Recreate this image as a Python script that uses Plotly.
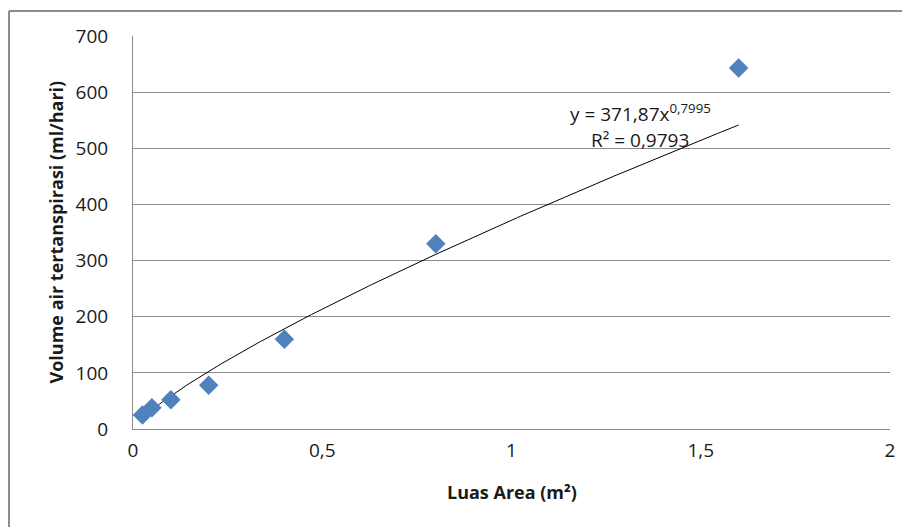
import plotly.graph_objects as go

# Data
luas_area = [0.025, 0.05, 0.1, 0.2, 0.4, 0.8, 1.6]
volume = [25, 38, 52, 78, 160, 330, 643]

# Power trendline as stated on the chart: y = 371,87 x^0,7995
trend_a = 371.87
trend_b = 0.7995
trend_x_start = 0.03
trend_x_end = 1.6

x_ticks = [0, 0.5, 1, 1.5, 2]
x_tick_labels = ["0", "0,5", "1", "1,5", "2"]
y_ticks = [0, 100, 200, 300, 400, 500, 600, 700]

n = 200
trend_x = [trend_x_start + (trend_x_end - trend_x_start) * i / (n - 1) for i in range(n)]
trend_y = [trend_a * x ** trend_b for x in trend_x]

FONT = "Open Sans"
TXT = "#1a1a1a"
GRID = "#8c8c8c"

# page body has an 8px margin; figure placed accordingly
W, H = 902, 519
L, T = 125, 28
PW, PH = 757, 393
R, B = W - L - PW, H - T - PH

fig = go.Figure()
fig.add_trace(go.Scatter(
    x=trend_x, y=trend_y, mode="lines",
    line=dict(color="black", width=1), hoverinfo="skip", showlegend=False))
fig.add_trace(go.Scatter(
    x=luas_area, y=volume, mode="markers",
    marker=dict(symbol="diamond", size=15, color="#4F81BD",
                line=dict(width=0)),
    showlegend=False))

fig.update_layout(
    width=W, height=H,
    margin=dict(l=L, r=R, t=T, b=B, pad=0),
    paper_bgcolor="white", plot_bgcolor="white",
    font=dict(family=FONT, color=TXT, size=19),
    xaxis=dict(range=[0, 2], tickvals=x_ticks, ticktext=x_tick_labels,
               showgrid=False, zeroline=False, showline=True,
               linecolor=GRID, linewidth=1, ticks="", ticklabelstandoff=4,
               tickfont=dict(size=19, family=FONT, color=TXT)),
    yaxis=dict(range=[0, 700], tickvals=y_ticks,
               showgrid=True, gridcolor=GRID, gridwidth=1,
               zeroline=False, showline=True, linecolor=GRID, linewidth=1,
               ticks="", ticklabelstandoff=20,
               tickfont=dict(size=19, family=FONT, color=TXT)),
    shapes=[
        dict(type="line", xref="paper", yref="paper",
             x0=(1 - L) / PW, x1=(W + 2 - L) / PW,
             y0=1 + (T - 3) / PH, y1=1 + (T - 3) / PH,
             line=dict(color=GRID, width=2)),
        dict(type="line", xref="paper", yref="paper",
             x0=(1 - L) / PW, x1=(1 - L) / PW,
             y0=1 + (T - 3) / PH, y1=-(B + 2) / PH,
             line=dict(color=GRID, width=2)),
    ],
    annotations=[
        dict(text="Volume air tertanspirasi (ml/hari)", xref="paper", yref="paper",
             x=-78 / PW, y=0.5, textangle=-90, showarrow=False,
             xanchor="center", yanchor="middle",
             font=dict(size=18, family=FONT, color=TXT, weight="bold")),
        dict(text="Luas Area (m²)", xref="paper", yref="paper",
             x=0.5, y=-63 / PH, showarrow=False,
             xanchor="center", yanchor="middle",
             font=dict(size=18, family=FONT, color=TXT, weight="bold")),
        dict(text="y = 371,87x<sup>0,7995</sup>", xref="x", yref="y",
             x=1.34, y=563, showarrow=False, xanchor="center", yanchor="middle",
             font=dict(size=19, family=FONT, color=TXT)),
        dict(text="R² = 0,9793", xref="x", yref="y",
             x=1.34, y=515, showarrow=False, xanchor="center", yanchor="middle",
             font=dict(size=19, family=FONT, color=TXT)),
    ],
)

fig.write_html("out.html")
